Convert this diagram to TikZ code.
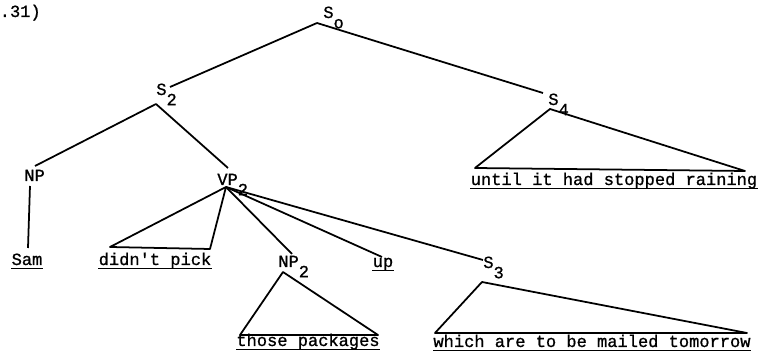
\documentclass[tikz,border=0pt]{standalone}
\usepackage{fontspec}
\newfontfamily\typewriter{Liberation Mono}[FakeBold=1]
\usepackage{tikz}
\usetikzlibrary{positioning}

\newcommand{\lowsub}[1]{\raisebox{-0.6em}{#1}}

\tikzset{
  branch/.style={line width=1pt, line join=round},
  cat/.style={font=\typewriter\fontsize{9.7}{12}\selectfont, inner sep=0pt, anchor=base west},
  leaf/.style={font=\typewriter\fontsize{9.7}{12}\selectfont, inner sep=0pt, anchor=base},
  underl/.style={line width=1pt}
}

\begin{document}
\begin{tikzpicture}[x=0.2mm, y=-0.2mm]

\useasboundingbox (0,0) rectangle (758,359);

% Example number (cut at the left edge)
\node[cat] (num) at (-21,17) {(5.31)};

% Category labels
\node[cat] (s0) at (323,18) {S\lowsub{o}};
\node[cat] (s2) at (156,95) {S\lowsub{2}};
\node[cat] (s4) at (548,105) {S\lowsub{4}};
\node[cat] (np) at (24,181) {NP};
\node[cat] (vp2) at (217,185) {VP\lowsub{2}};
\node[cat] (np2) at (278,267) {NP\lowsub{2}};
\node[cat] (s3) at (483,268) {S\lowsub{3}};

% Leaves
\node[leaf] (sam) at (27,265) {Sam};
\node[leaf] (pick) at (155,265) {didn't pick};
\node[leaf] (up) at (383,267) {up};
\node[leaf] (pkgs) at (308,346) {those packages};
\node[leaf] (mail) at (592,347) {which are to be mailed tomorrow};
\node[leaf] (rain) at (614,185) {until it had stopped raining};

% Attachment points
\coordinate (s0-foot) at (317,23);
\coordinate (s2-top) at (170,87);
\coordinate (s2-foot) at (156,104);
\coordinate (s4-top) at (543,93);
\coordinate (s4-foot) at (550,109);
\coordinate (np-top) at (35,166);
\coordinate (np-foot) at (30,186);
\coordinate (vp2-top) at (228,168);
\coordinate (vp2-foot) at (226,187);
\coordinate (np2-top) at (292,254);
\coordinate (np2-foot) at (283,272);
\coordinate (s3-top) at (483,260);
\coordinate (s3-foot) at (482,282);
\coordinate (sam-top) at (28,248);
\coordinate (up-top) at (382,257);

% Branches
\draw[branch] (s0-foot) -- (s2-top);
\draw[branch] (s0-foot) -- (s4-top);
\draw[branch] (s2-foot) -- (np-top);
\draw[branch] (s2-foot) -- (vp2-top);
\draw[branch] (np-foot) -- (sam-top);
\draw[branch] (vp2-foot) -- (np2-top);
\draw[branch] (vp2-foot) -- (up-top);
\draw[branch] (vp2-foot) -- (s3-top);

% Triangles over unanalysed strings
\draw[branch] (vp2-foot) -- (110,247) -- (210,249) -- cycle;
\draw[branch] (np2-foot) -- (240,335) -- (378,335) -- cycle;
\draw[branch] (s3-foot) -- (435,333) -- (747,333) -- cycle;
\draw[branch] (s4-foot) -- (475,168) -- (745,171) -- cycle;

% Underlines
\foreach \n in {sam,pick,up,pkgs,mail,rain} {
    \draw[underl] ([yshift=-2pt]\n.base west) -- ([yshift=-2pt]\n.base east);
}

\end{tikzpicture}
\end{document}
